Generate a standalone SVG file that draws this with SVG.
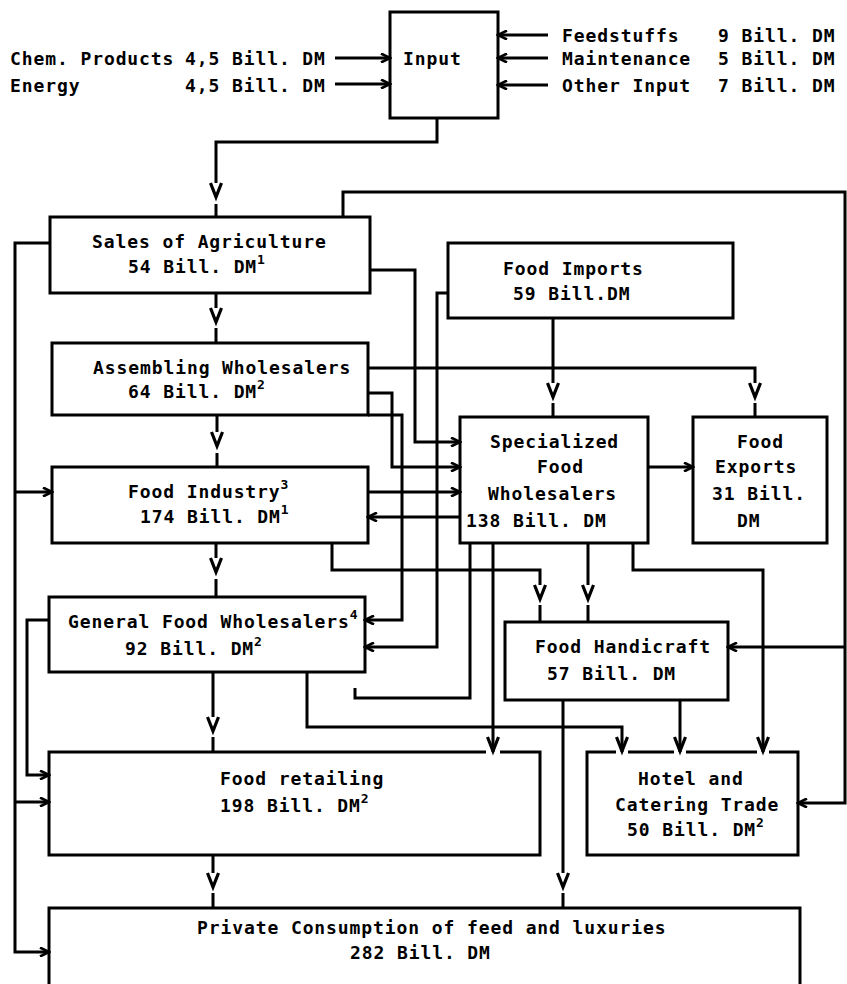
<svg xmlns="http://www.w3.org/2000/svg" width="847" height="984" viewBox="0 0 847 984">
<style>
.box{fill:none;stroke:#000;stroke-width:3;stroke-linejoin:miter}
.ln{fill:none;stroke:#000;stroke-width:3;stroke-linejoin:miter}
.t{font-family:"DejaVu Sans Mono","Liberation Mono",monospace;font-weight:bold;font-size:18px;letter-spacing:0.9px;fill:#000}
.s{font-size:13px;letter-spacing:0}
.vh{fill:none;stroke:#000;stroke-width:3.2;stroke-linejoin:miter}
</style>
<defs>
<marker id="a" markerUnits="userSpaceOnUse" markerWidth="12" markerHeight="10" refX="10" refY="5" orient="auto" viewBox="0 0 12 10"><path d="M1,0.5 L10,5 L1,9.5" fill="none" stroke="#000" stroke-width="2.6"/></marker>
<path id="v" d="M-5.5,0 L0,14 L5.5,0" class="vh"/>
</defs>
<rect width="847" height="984" fill="#fff"/>

<g id="inputs-left">
<text class="t" x="10" y="65">Chem. Products</text>
<text class="t" x="185" y="65">4,5 Bill. DM</text>
<text class="t" x="10" y="92">Energy</text>
<text class="t" x="185" y="92">4,5 Bill. DM</text>
</g>
<g id="inputs-right">
<text class="t" x="562" y="42">Feedstuffs</text>
<text class="t" x="718" y="42">9 Bill. DM</text>
<text class="t" x="562" y="65">Maintenance</text>
<text class="t" x="718" y="65">5 Bill. DM</text>
<text class="t" x="562" y="92">Other Input</text>
<text class="t" x="718" y="92">7 Bill. DM</text>
</g>

<g id="input">
<rect class="box" x="390" y="12" width="108" height="106"/>
<text class="t" x="403" y="65">Input</text>
</g>
<g id="sales">
<rect class="box" x="50" y="217" width="320" height="76"/>
<text class="t" x="92" y="248">Sales of Agriculture</text>
<text class="t" x="128" y="273">54 Bill. DM<tspan class="s" dy="-9">1</tspan></text>
</g>
<g id="assembling">
<rect class="box" x="52" y="343" width="316" height="72"/>
<text class="t" x="93" y="374">Assembling Wholesalers</text>
<text class="t" x="128" y="398">64 Bill. DM<tspan class="s" dy="-9">2</tspan></text>
</g>
<g id="industry">
<rect class="box" x="52" y="467" width="316" height="76"/>
<text class="t" x="128" y="498">Food Industry<tspan class="s" dy="-9">3</tspan></text>
<text class="t" x="140" y="523">174 Bill. DM<tspan class="s" dy="-9">1</tspan></text>
</g>
<g id="general">
<rect class="box" x="49" y="597" width="316" height="75"/>
<text class="t" x="68" y="628">General Food Wholesalers<tspan class="s" dy="-9">4</tspan></text>
<text class="t" x="125" y="655">92 Bill. DM<tspan class="s" dy="-9">2</tspan></text>
</g>
<g id="imports">
<rect class="box" x="448" y="243" width="285" height="75"/>
<text class="t" x="503" y="275">Food Imports</text>
<text class="t" x="513" y="300">59 Bill.DM</text>
</g>
<g id="specialized">
<rect class="box" x="460" y="417" width="188" height="126"/>
<text class="t" x="490" y="448">Specialized</text>
<text class="t" x="537" y="473">Food</text>
<text class="t" x="488" y="500">Wholesalers</text>
<text class="t" x="466" y="527">138 Bill. DM</text>
</g>
<g id="exports">
<rect class="box" x="693" y="417" width="134" height="126"/>
<text class="t" x="737" y="448">Food</text>
<text class="t" x="715" y="473">Exports</text>
<text class="t" x="712" y="500">31 Bill.</text>
<text class="t" x="737" y="527">DM</text>
</g>
<g id="handicraft">
<rect class="box" x="505" y="622" width="223" height="78"/>
<text class="t" x="535" y="653">Food Handicraft</text>
<text class="t" x="547" y="680">57 Bill. DM</text>
</g>
<g id="retailing">
<path class="box" d="M486,752 H49 V855 H540 V752 H500"/>
<text class="t" x="220" y="785">Food retailing</text>
<text class="t" x="220" y="812">198 Bill. DM<tspan class="s" dy="-9">2</tspan></text>
</g>
<g id="hotel">
<path class="box" d="M616,752 H587 V855 H798 V752 H769 M757,752 H686 M674,752 H628"/>
<text class="t" x="638" y="785">Hotel and</text>
<text class="t" x="615" y="811">Catering Trade</text>
<text class="t" x="627" y="836">50 Bill. DM<tspan class="s" dy="-9">2</tspan></text>
</g>
<g id="private">
<path class="box" d="M49,988 V908 H800 V988"/>
<text class="t" x="197" y="934">Private Consumption of feed and luxuries</text>
<text class="t" x="350" y="959">282 Bill. DM</text>
</g>

<g id="connectors">
<path class="ln" marker-end="url(#a)" d="M335,58 H390"/>
<path class="ln" marker-end="url(#a)" d="M335,84 H390"/>
<path class="ln" marker-end="url(#a)" d="M548,35 H498"/>
<path class="ln" marker-end="url(#a)" d="M548,58 H498"/>
<path class="ln" marker-end="url(#a)" d="M548,85 H498"/>

<path class="ln" d="M437,118 V142 H216 V183 M216,204 V217"/>
<use href="#v" x="216" y="183"/>

<path class="ln" marker-end="url(#a)" d="M343,217 V192 H845 V803 H798"/>
<path class="ln" marker-end="url(#a)" d="M845,647 H728"/>

<path class="ln" marker-end="url(#a)" d="M370,270 H415 V442 H460"/>

<path class="ln" d="M216,293 V308 M216,328 V343"/>
<use href="#v" x="216" y="308"/>

<path class="ln" marker-end="url(#a)" d="M50,243 H15 V952 H49"/>
<path class="ln" marker-end="url(#a)" d="M15,492 H52"/>
<path class="ln" marker-end="url(#a)" d="M15,802 H49"/>

<path class="ln" d="M217,415 V432 M217,453 V467"/>
<use href="#v" x="217" y="432"/>

<path class="ln" d="M368,368 H755 V383 M755,403 V417"/>
<use href="#v" x="755" y="383"/>

<path class="ln" marker-end="url(#a)" d="M368,393 H392 V467 H460"/>
<path class="ln" marker-end="url(#a)" d="M368,415 H402 V620 H365"/>
<path class="ln" marker-end="url(#a)" d="M448,293 H437 V647 H365"/>

<path class="ln" d="M553,318 V383 M553,403 V417"/>
<use href="#v" x="553" y="383"/>

<path class="ln" marker-end="url(#a)" d="M368,492 H460"/>
<path class="ln" marker-end="url(#a)" d="M460,517 H368"/>

<path class="ln" d="M216,543 V558 M216,579 V597"/>
<use href="#v" x="216" y="558"/>

<path class="ln" d="M332,543 V570 H540 V585 M540,605 V622"/>
<use href="#v" x="540" y="585"/>

<path class="ln" d="M588,543 V585 M588,605 V622"/>
<use href="#v" x="588" y="585"/>

<path class="ln" marker-end="url(#a)" d="M648,467 H693"/>

<path class="ln" d="M633,543 V570 H763 V752"/>
<use href="#v" x="763" y="737"/>

<path class="ln" d="M470,543 V698 H355 V688"/>

<path class="ln" d="M493,543 V752"/>
<use href="#v" x="493" y="737"/>

<path class="ln" d="M213,672 V717 M213,737 V752"/>
<use href="#v" x="213" y="717"/>

<path class="ln" d="M307,672 V727 H622 V752"/>
<use href="#v" x="622" y="737"/>

<path class="ln" marker-end="url(#a)" d="M49,620 H27 V775 H49"/>

<path class="ln" d="M680,700 V752"/>
<use href="#v" x="680" y="737"/>

<path class="ln" d="M563,700 V873 M563,893 V908"/>
<use href="#v" x="563" y="873"/>

<path class="ln" d="M213,855 V873 M213,893 V908"/>
<use href="#v" x="213" y="873"/>
</g>
</svg>
